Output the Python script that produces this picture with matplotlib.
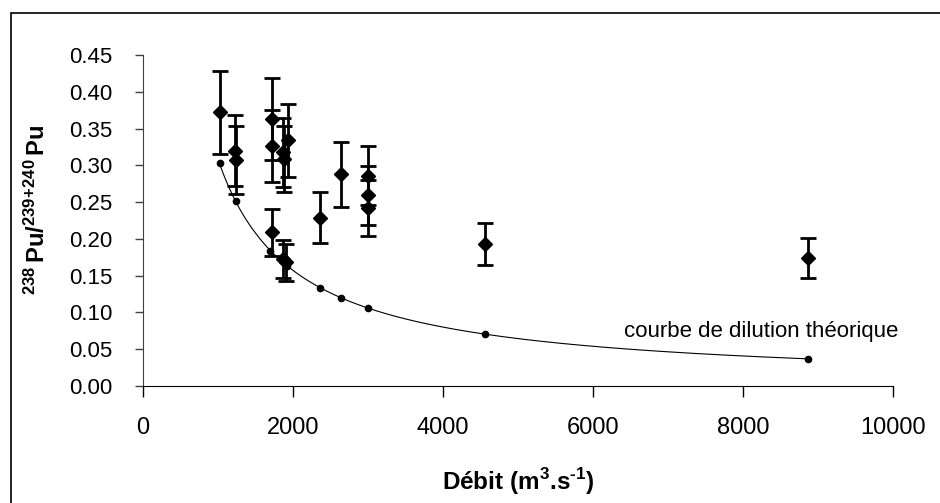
"""
Pu isotopic ratio vs river discharge, with the theoretical dilution curve.
"""

import numpy as np
import matplotlib
matplotlib.use("Agg")
import matplotlib.pyplot as plt
from matplotlib.patches import Rectangle

# ── data ─────────────────────────────────────────────────────────────
# measured 238Pu/239+240Pu ratios and their error bars
debit = [1027, 1230, 1240, 1715, 1715, 1720, 1871, 1875, 1938, 1871, 1903,
         2360, 2640, 3000, 3004, 3000, 4560, 8870]
ratio = [0.372, 0.320, 0.307, 0.363, 0.326, 0.209, 0.318, 0.309, 0.334,
         0.173, 0.168, 0.229, 0.288, 0.286, 0.259, 0.242, 0.193, 0.174]
ratio_err = [0.056, 0.048, 0.046, 0.056, 0.049, 0.032, 0.047, 0.045, 0.050,
             0.026, 0.025, 0.035, 0.044, 0.040, 0.040, 0.038, 0.029, 0.027]

# theoretical dilution points
dil_debit = [1027, 1240, 1693, 1916, 2360, 2640, 3004, 4560, 8870]
dil_ratio = [0.303, 0.252, 0.183, 0.163, 0.133, 0.119, 0.106, 0.071, 0.037]

x_ticks = [0, 2000, 4000, 6000, 8000, 10000]
y_ticks = [0.00, 0.05, 0.10, 0.15, 0.20, 0.25, 0.30, 0.35, 0.40, 0.45]

plt.rcParams.update({
    "font.family": ["Liberation Sans", "DejaVu Sans"],
    "font.size": 16,
    "mathtext.fontset": "custom",
    "mathtext.rm": "Liberation Sans",
    "mathtext.bf": "Liberation Sans:bold",
})

W, H = 940, 503
fig = plt.figure(figsize=(W / 100, H / 100), dpi=100)
ax = fig.add_axes([143 / W, 1 - 386 / H, 750 / W, 331 / H])

# chart-area frame
fig.patches.append(Rectangle((11 / W, -0.01), 1.0, 1 - 13 / H + 0.01,
                             transform=fig.transFigure, fill=False,
                             edgecolor="black", linewidth=1.2))

# power-law trendline through the dilution points (as the spreadsheet did)
b, ln_a = np.polyfit(np.log(dil_debit), np.log(dil_ratio), 1)
xs = np.linspace(min(dil_debit), max(dil_debit), 300)
ax.plot(xs, np.exp(ln_a) * xs ** b, color="black", linewidth=0.8, zorder=2)
ax.plot(dil_debit, dil_ratio, "o", color="black", markersize=4.5, zorder=3)

ax.errorbar(debit, ratio, yerr=ratio_err, fmt="D", color="black",
            markersize=7.5, elinewidth=2, capsize=5.5, capthick=2, zorder=4)

ax.text(6420, 0.074, "courbe de dilution théorique", ha="left", va="center",
        fontsize=16)

ax.set_xlim(0, 10000)
ax.set_ylim(0, 0.45)
ax.set_xticks(x_ticks)
ax.set_yticks(y_ticks)
ax.set_yticklabels([f"{v:.2f}" for v in y_ticks])
ax.tick_params(axis="x", direction="out", length=8, width=1, pad=14,
               labelsize=17)
ax.tick_params(axis="y", direction="out", length=6, width=1, pad=16,
               labelsize=16, color="#404040")

for side in ("top", "right"):
    ax.spines[side].set_visible(False)
ax.spines["left"].set_color("#404040")
ax.spines["bottom"].set_color("black")

fig.text(518 / W, 1 - 482 / H, "Débit (m$^{\\mathbf{3}}$.s$^{\\mathbf{\u2010 1}}$)",
         ha="center", va="center", fontsize=17.5, fontweight="bold")
fig.text(37 / W, 1 - 210 / H,
         r"$\mathbf{{}^{238}\,Pu/{}^{239\!+\!240}\,Pu}$",
         ha="center", va="center", rotation=90, fontsize=17)

fig.savefig("out.png", dpi=100)
